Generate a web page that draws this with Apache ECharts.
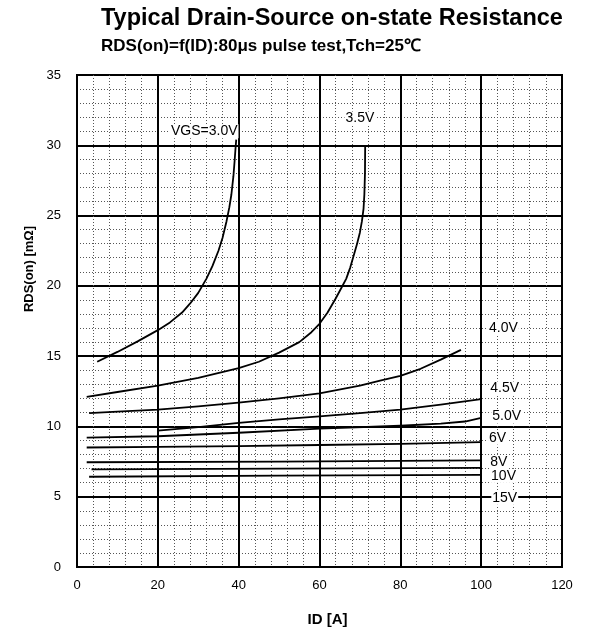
<!DOCTYPE html>
<html>
<head>
<meta charset="utf-8">
<script src="https://cdn.jsdelivr.net/npm/echarts@6/dist/echarts.min.js"></script>
<style>
html,body{margin:0;padding:0;background:#fff;}
#chart{width:597px;height:629px;}
</style>
</head>
<body>
<div id="chart"></div>
<script>
// ---- data (ID [A], RDS(on) [mΩ]) ----
const vgs30 = [[5,14.6],[10,15.3],[15,16.05],[20,16.85],[23,17.4],[26,18.1],[28,18.75],[30,19.5],[32,20.5],[33.5,21.4],[35,22.5],[36,23.4],[37,24.6],[37.7,25.6],[38.2,26.5],[38.7,27.8],[39,28.9],[39.2,29.7],[39.4,30.4]];
const vgs35 = [[2.4,12.1],[10,12.45],[20,12.9],[30,13.45],[40,14.15],[45,14.6],[50,15.25],[55,16.0],[58,16.7],[60,17.3],[62,18.1],[64,19.1],[65.5,19.9],[66.6,20.5],[67.6,21.3],[68.5,22.2],[69.3,23.0],[70,23.8],[70.5,24.6],[70.9,25.5],[71.1,26.5],[71.25,28],[71.3,30]];
const vgs40 = [[3,10.95],[10,11.05],[20,11.2],[30,11.42],[40,11.7],[50,12.0],[60,12.35],[70,12.9],[75,13.25],[80,13.6],[85,14.1],[90,14.75],[95,15.45]];
const vgs45 = [[20,9.7],[30,9.95],[40,10.25],[50,10.5],[60,10.72],[70,10.95],[80,11.2],[90,11.55],[100,11.95]];
const vgs50 = [[2.4,9.2],[20,9.3],[40,9.55],[60,9.84],[80,10.05],[90,10.2],[96,10.35],[100,10.6]];
const vgs6  = [[2.4,8.5],[20,8.55],[40,8.6],[60,8.68],[80,8.76],[100,8.88]];
const vgs8  = [[2.4,7.45],[50,7.5],[100,7.58]];
const vgs10 = [[3.6,6.95],[50,7.0],[100,7.05]];
const vgs15 = [[3,6.42],[50,6.5],[100,6.55]];

const curveNames = ['VGS=3.0V','3.5V','4.0V','4.5V','5.0V','6V','8V','10V','15V'];
const curveData = [vgs30, vgs35, vgs40, vgs45, vgs50, vgs6, vgs8, vgs10, vgs15];
// label anchors in data units: [ID, RDS]
const labelAnchors = [[23,31.0],[66.2,31.9],[101.7,17.0],[102,12.7],[102.5,10.7],[101.7,9.2],[102,7.47],[102.2,6.48],[102.5,4.92]];

const xTicks = {min:0, max:120, interval:20};
const yTicks = {min:0, max:35, interval:5};

const FONT = '"Liberation Sans", Arial, sans-serif';

const chart = echarts.init(document.getElementById('chart'), null, {renderer:'canvas'});

const lineSeries = curveData.map((d, i) => ({
  type:'line', name: curveNames[i], data: d,
  showSymbol:false, symbol:'none', smooth:false,
  lineStyle:{color:'#000', width:1.8, join:'round'}, z:5, silent:true
}));

const labelSeries = {
  type:'custom', silent:true, z:6,
  data: labelAnchors.map((p, i) => ({value:[p[0], p[1], i]})),
  renderItem: (params, api) => {
    const pt = api.coord([api.value(0), api.value(1)]);
    return {
      type:'text', x:pt[0], y:pt[1],
      style:{text: curveNames[api.value(2)], fill:'#000', font:'14px ' + FONT,
        align:'left', verticalAlign:'middle', backgroundColor:'#fff', padding:[0,1,0,1]}
    };
  }
};

chart.setOption({
  animation:false,
  backgroundColor:'#fff',
  title:[
    {text:'Typical Drain-Source on-state Resistance', left:101, top:7, padding:0,
      textStyle:{fontFamily:FONT, fontWeight:'bold', fontSize:23.5, color:'#000'}},
    {text:'RDS(on)=f(ID):80\u03bcs pulse test,Tch=25\u2103', left:101, top:38, padding:0,
      textStyle:{fontFamily:FONT, fontWeight:'bold', fontSize:17, color:'#000'}}
  ],
  grid:{left:77, right:35, top:75, bottom:62, containLabel:false, outerBoundsMode:'none',
    show:true, borderColor:'#000', borderWidth:2, backgroundColor:'transparent'},
  xAxis:{
    type:'value', min:xTicks.min, max:xTicks.max, interval:xTicks.interval,
    name:'ID [A]', nameLocation:'middle', nameGap:45,
    nameTextStyle:{fontFamily:FONT, fontWeight:'bold', fontSize:15, color:'#000', padding:[0,0,0,16]},
    axisLine:{show:true, lineStyle:{color:'#000', width:2}},
    axisTick:{show:false},
    axisLabel:{fontFamily:FONT, fontSize:13, color:'#000', margin:12},
    splitLine:{show:true, lineStyle:{color:'#000', width:2}},
    minorTick:{show:false, splitNumber:5},
    minorSplitLine:{show:true, lineStyle:{color:'#555', width:1, type:[1,2]}}
  },
  yAxis:{
    type:'value', min:yTicks.min, max:yTicks.max, interval:yTicks.interval,
    name:'RDS(on) [m\u03a9]', nameLocation:'middle', nameGap:38,
    nameTextStyle:{fontFamily:FONT, fontWeight:'bold', fontSize:13, color:'#000', padding:[0,0,0,104]},
    axisLine:{show:true, lineStyle:{color:'#000', width:2}},
    axisTick:{show:false},
    axisLabel:{fontFamily:FONT, fontSize:13, color:'#000', margin:16},
    splitLine:{show:true, lineStyle:{color:'#000', width:2}},
    minorTick:{show:false, splitNumber:5},
    minorSplitLine:{show:true, lineStyle:{color:'#555', width:1, type:[1,2]}}
  },
  series:[...lineSeries, labelSeries]
});
</script>
</body>
</html>
